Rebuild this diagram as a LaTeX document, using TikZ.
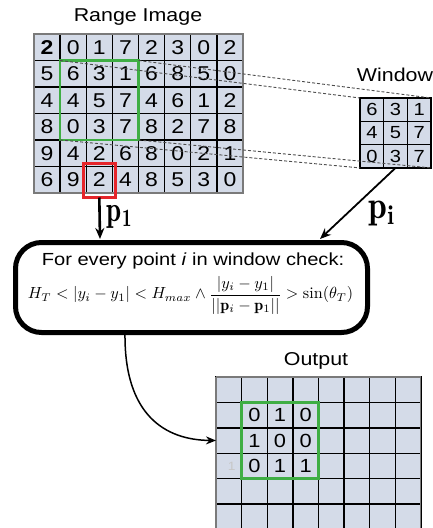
\documentclass[tikz,border=0pt]{standalone}
\usepackage{amsmath}
\usepackage{graphicx}
\usepackage{fontspec}
\newfontfamily\arial[FakeStretch=1.15]{Liberation Sans}
\usetikzlibrary{arrows.meta}
\definecolor{cellfill}{HTML}{D4DBE8}
\definecolor{winbox}{HTML}{3FAE44}
\definecolor{pickred}{HTML}{E5252A}
\definecolor{edgegray}{HTML}{7A7A7A}
\tikzset{
  cellbase/.style={draw=black, line width=1.4pt, fill=cellfill, inner sep=0pt, outer sep=0pt},
  rcell/.style={cellbase, minimum width=26.125pt, minimum height=26.5pt, font=\arial\fontsize{20}{24}\selectfont},
  wcell/.style={cellbase, minimum width=23.7pt, minimum height=23.3pt, font=\arial\fontsize{17.5}{21}\selectfont},
  ocell/.style={cellbase, minimum width=25.6pt, minimum height=25.4pt},
  title/.style={font=\arial\fontsize{18.6}{22}\selectfont, inner sep=0pt, anchor=base},
  greenbox/.style={draw=winbox, line width=2.6pt},
  link/.style={draw=black!70, line width=0.9pt, dash pattern=on 3pt off 2pt},
  plabel/.style={inner sep=0pt},
  flow/.style={line width=1.8pt, -{Stealth[length=11pt,width=9pt]}},
}
\begin{document}
\begin{tikzpicture}[x=1pt,y=-1pt]
\useasboundingbox (0,0) rectangle (433,528);

% range image
\node[title] (rtitle) at (138,21.5) {Range Image};
\foreach \row [count=\r from 0] in {{\textbf{2},0,1,7,2,3,0,2},{5,6,3,1,6,8,5,0},{4,4,5,7,4,6,1,2},{8,0,3,7,8,2,7,8},{9,4,2,6,8,0,2,1},{6,9,2,4,8,5,3,0}} {
  \foreach \v [count=\c from 0] in \row {
    \node[rcell] (r-\r-\c) at ({34+26.125*(\c+0.5)},{34+26.5*(\r+0.5)}) {\v};
  }
}
\draw[edgegray, line width=1.2pt] (r-0-0.north west) rectangle (r-5-7.south east);
\draw[greenbox] (r-1-1.north west) rectangle (r-3-3.south east);
\draw[pickred, line width=3pt] ([shift={(-3,-3)}]r-5-2.north west) rectangle ([shift={(3,4)}]r-5-2.south east);

% window
\node[title] (wtitle) at (395,81) {Window};
\foreach \row [count=\r from 0] in {{6,3,1},{4,5,7},{0,3,7}} {
  \foreach \v [count=\c from 0] in \row {
    \node[wcell] (w-\r-\c) at ({360+23.7*(\c+0.5)},{98+23.3*(\r+0.5)}) {\v};
  }
}

% projection of the window
\draw[link] (r-1-1.north west) -- (w-0-0.north west);
\draw[link] (r-1-3.north east) -- (w-0-2.north east);
\draw[link] (r-3-1.south west) -- (w-2-0.south west);
\draw[link] (r-3-3.south east) -- (w-2-2.south east);

% check box
\node[draw=black, line width=5pt, rounded corners=26pt, minimum width=352pt, minimum height=90pt, inner sep=0pt, outer sep=0pt] (check) at (191.5,287.5) {};
\node[font=\arial\fontsize{17.5}{21}\selectfont, inner sep=0pt, anchor=base] (rule) at (193,265) {For every point \textit{i} in window check:};
\node[inner sep=0pt] (formula) at (190.5,295)
  {\resizebox{325pt}{!}{$H_T < |y_i - y_1| < H_{max} \wedge \dfrac{|y_i - y_1|}{||\mathbf{p}_i - \mathbf{p}_1||} > \sin(\theta_T)$}};

\coordinate (p1end) at (100,239);
\coordinate (piend) at (320,239);
\draw[flow, line width=2.6pt] ([yshift=-4.5pt]r-5-2.south) -- (p1end);
\draw[flow] (w-2-1.south) -- (piend);
\node[plabel] (p1) at (120,216.5) {\resizebox*{26pt}{23pt}{$\mathbf{p_1}$}};
\node[plabel] (pi) at (382,213.5) {\resizebox*{27pt}{25pt}{$\mathbf{p_i}$}};

% output
\node[title] (otitle) at (316,365.5) {Output};
\foreach \r in {0,...,5} {
  \foreach \c in {0,...,7} {
    \node[ocell] (o-\r-\c) at ({216+25.6*(\c+0.5)},{377+25.4*(\r+0.5)}) {};
  }
}
\foreach \row [count=\r from 1] in {{0,1,0},{1,0,0},{0,1,1}} {
  \foreach \v [count=\c from 1] in \row {
    \node[font=\arial\fontsize{19}{23}\selectfont, inner sep=0pt] (d-\r-\c) at (o-\r-\c) {\v};
  }
}
\node[font=\arial\fontsize{12}{14}\selectfont, text=black!22, inner sep=0pt] (ghost) at ([xshift=3pt]o-3-0) {1};
\draw[edgegray, line width=1.2pt] (o-0-0.north west) -- (o-0-7.north east) -- (o-5-7.south east);
\draw[edgegray, line width=1.2pt] (o-0-0.north west) -- (o-5-0.south west);
\draw[greenbox] (o-1-1.north west) rectangle (o-3-3.south east);

\draw[flow, line width=1.5pt, -{Stealth[length=10pt,width=8pt]}] (125,333) .. controls (124,415) and (165,440) .. (o-2-0.west);
\end{tikzpicture}
\end{document}
